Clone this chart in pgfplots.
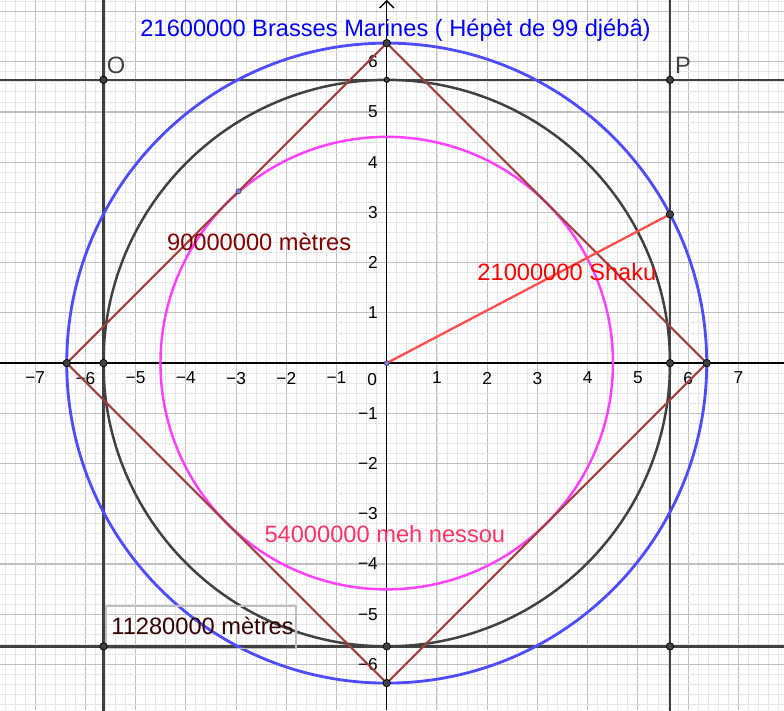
\documentclass[border=0pt]{standalone}
\usepackage{pgfplots}
\pgfplotsset{compat=1.18}
\usepackage{fontspec}
\setmainfont{Liberation Sans}
\usetikzlibrary{arrows.meta}
\definecolor{cblue}{RGB}{77,77,255}
\definecolor{cblack}{RGB}{64,64,64}
\definecolor{cmag}{RGB}{255,64,255}
\definecolor{cbrown}{RGB}{158,64,64}
\definecolor{cred}{RGB}{255,77,77}
\definecolor{tdred}{RGB}{128,0,0}
\definecolor{tpink}{RGB}{255,51,102}
\definecolor{tdark}{RGB}{51,0,0}
\definecolor{gmaj}{RGB}{192,192,192}
\definecolor{gmin}{RGB}{230,230,230}
\definecolor{boxg}{RGB}{191,191,191}
\definecolor{ptblue}{RGB}{125,125,255}
\begin{document}
\begin{tikzpicture}
\begin{axis}[
  at={(0,0)}, anchor=south west,
  scale only axis, width=15.61cm, height=14.14cm,
  xmin=-7.70, xmax=7.91, ymin=-6.91, ymax=7.23,
  axis lines=middle,
  axis line style={black, line width=0.8pt},
  x axis line style={-},
  y axis line style={-{Straight Barb[length=4pt,width=8pt]}},
  xtick={-7,...,7}, ytick={-6,...,7},
  xticklabels={−7,−6,−5,−4,−3,−2,−1,,1,2,3,4,5,6,7},
  yticklabels={−6,−5,−4,−3,−2,−1,,1,2,3,4,5,6,},
  minor xtick={-7.6,-7.4,...,7.8},
  minor ytick={-6.8,-6.6,...,7.2},
  grid=both,
  minor grid style={draw=gmin, line width=0.5pt},
  major grid style={draw=gmaj, line width=0.6pt},
  major tick length=0pt, minor tick length=0pt,
  tick label style={font=\fontsize{9.8}{11}\selectfont, text=black},
  xticklabel style={anchor=north, yshift=-1.5pt},
  yticklabel style={anchor=east, xshift=-1.5pt},
  hide obscured x ticks=false, hide obscured y ticks=false,
  clip=true,
]
% O / P construction lines
\addplot[cblack, line width=1.4pt] coordinates {(-5.64,-8) (-5.64,8)};
\addplot[cblack, line width=1.4pt] coordinates {(5.64,-8) (5.64,8)};
\addplot[cblack, line width=1.4pt] coordinates {(-9,5.64) (9,5.64)};
\addplot[cblack, line width=1.4pt] coordinates {(-9,-5.64) (9,-5.64)};
% circles
\draw[cblue, line width=1.6pt] (axis cs:0,0) circle [radius=6.371];
\draw[cblack, line width=1.4pt] (axis cs:0,0) circle [radius=5.64];
\draw[cmag, line width=1.4pt] (axis cs:0,0) circle [radius=4.505];
% square
\addplot[cbrown, line width=1.2pt] coordinates {(0,6.371) (6.371,0) (0,-6.371) (-6.371,0) (0,6.371)};
% red segment
\addplot[cred, line width=1.3pt] coordinates {(0,0) (5.64,2.963)};
% points
\addplot[only marks, mark=*, mark size=2.1pt, mark options={fill=cblack, draw=black, line width=0.4pt}]
  coordinates {(-5.64,5.64) (5.64,5.64) (-5.64,-5.64) (5.64,-5.64) (5.64,2.963)
  (0,6.371) (6.371,0) (0,-6.371) (-6.371,0) (5.64,0) (-5.64,0) (0,-5.64)};
\addplot[only marks, mark=*, mark size=1.5pt, mark options={fill=cblack, draw=black, line width=0.4pt}]
  coordinates {(0,5.64)};
\addplot[only marks, mark=*, mark size=1.4pt, mark options={fill=ptblue, draw=cblack, line width=0.4pt}]
  coordinates {(0,0) (-2.95,3.421)};
% labels
\node[font=\fontsize{9.8}{11}\selectfont, anchor=north east, inner sep=1pt] at (axis cs:-0.15,-0.17) {0};
\node[font=\fontsize{13.4}{15}\selectfont, text=blue, anchor=west, inner sep=0pt] at (axis cs:-4.91,6.63) {21600000 Brasses Marines ( Hépèt de 99 djébâ)};
\node[font=\fontsize{13.4}{15}\selectfont, text=cblack, anchor=center, inner sep=0pt] at (axis cs:-5.39,5.92) {O};
\node[font=\fontsize{13.4}{15}\selectfont, text=cblack, anchor=center, inner sep=0pt] at (axis cs:5.90,5.92) {P};
\node[font=\fontsize{13.4}{15}\selectfont, text=tdred, anchor=west, inner sep=0pt] at (axis cs:-4.38,2.41) {90000000 mètres};
\node[font=\fontsize{13.4}{15}\selectfont, text=red, anchor=west, inner sep=0pt] at (axis cs:1.80,1.81) {21000000 Shaku};
\node[font=\fontsize{13.4}{15}\selectfont, text=tpink, anchor=west, inner sep=0pt] at (axis cs:-2.44,-3.41) {54000000 meh nessou};
\draw[boxg, line width=0.8pt] (axis cs:-5.59,-4.84) rectangle (axis cs:-1.81,-5.68);
\node[font=\fontsize{13.4}{15}\selectfont, text=tdark, anchor=west, inner sep=0pt] at (axis cs:-5.49,-5.24) {11280000 mètres};
\end{axis}
\pgfresetboundingbox
\useasboundingbox (0,0) rectangle (15.61cm,14.14cm);
\end{tikzpicture}
\end{document}
